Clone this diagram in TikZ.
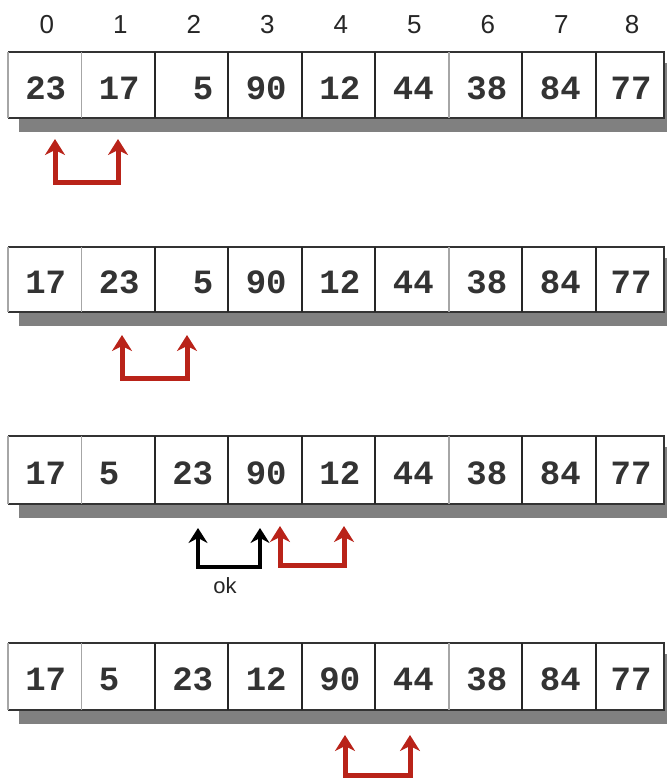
\documentclass[tikz,border=0pt]{standalone}
\usepackage{fontspec}
\setmainfont{Liberation Sans}
\newfontfamily\cellfont{Liberation Mono}
\usetikzlibrary{arrows.meta}
\definecolor{swapred}{RGB}{185,35,25}
\definecolor{shadowgray}{RGB}{128,128,128}
\tikzset{
  cellnum/.style={font=\cellfont\bfseries\fontsize{34}{34}\selectfont, text=black!80, inner sep=0pt, anchor=center},
  cellbox/.style={inner sep=0pt, anchor=center},
  idx/.style={font=\fontsize{26}{26}\selectfont, text=black!85, inner sep=0pt, anchor=base},
  frame/.style={draw=black!80, line width=1.6pt},
  divider/.style={draw=black!85, line width=2pt},
  lightdiv/.style={draw=black!35, line width=1.6pt},
  swaparrow/.style={draw=swapred, line width=5pt, {Stealth[length=16pt,width=20pt,inset=5pt]}-{Stealth[length=16pt,width=20pt,inset=5pt]}},
  okarrow/.style={draw=black, line width=4.5pt, {Stealth[length=15pt,width=19pt,inset=5pt]}-{Stealth[length=15pt,width=19pt,inset=5pt]}},
  oklabel/.style={font=\fontsize{22}{22}\selectfont, text=black!85, inner sep=0pt, anchor=base}
}
\newcommand{\ph}{\phantom{0}}
\begin{document}
\begin{tikzpicture}[x=1pt,y=-1pt]
\useasboundingbox (0,0) rectangle (667,782);
\fill[white] (0,0) rectangle (667,782);
\def\xs{{8,81.5,155,228.5,302,375.5,449,522.5,596,664}}
% index labels
\foreach \i in {0,...,8}{
  \pgfmathsetmacro{\xa}{\xs[\i]}
  \pgfmathsetmacro{\xb}{\xs[\i+1]}
  \node[idx] (idx\i) at ({(\xa+\xb)/2+2},33) {\i};
}
% rows: row number / top / bottom / values
\foreach \r/\top/\bot/\vals in {
  1/52/118/{23,17,{\ph5},90,12,44,38,84,77},
  2/247/312/{17,23,{\ph5},90,12,44,38,84,77},
  3/436/504/{17,{5\ph},23,90,12,44,38,84,77},
  4/643/710/{17,{5\ph},23,12,90,44,38,84,77}}{
  \fill[shadowgray] (19,{\top+11}) rectangle (667,{\bot+14});
  \fill[white] (8,\top) rectangle (664,\bot);
  \foreach \v [count=\c from 0] in \vals {
    \pgfmathsetmacro{\xa}{\xs[\c]}
    \pgfmathsetmacro{\xb}{\xs[\c+1]}
    \node[cellbox, minimum width={(\xb-\xa)*1pt}, minimum height={(\bot-\top)*1pt}] (r\r c\c) at ({(\xa+\xb)/2},{(\top+\bot)/2}) {};
    \node[cellnum] (t\r c\c) at ({(\xa+\xb)/2+1},{(\top+\bot)/2+3}) {\v};
  }
  \draw[frame] (8,\top) -- (664,\top) -- (664,\bot) -- (8,\bot);
  \draw[lightdiv] (8,\top) -- (8,\bot);
  \foreach \c in {2,3,4,5,7,8}{
    \draw[divider] (r\r c\c.north west) -- (r\r c\c.south west);
  }
  \draw[lightdiv] (r\r c1.north west) -- (r\r c1.south west);
  \draw[lightdiv] (r\r c6.north west) -- (r\r c6.south west);
}
% arrow coordinates
\coordinate (a1l) at (55,139);  \coordinate (a1r) at (118,139);
\coordinate (a2l) at (122,335); \coordinate (a2r) at (187,335);
\coordinate (a3l) at (198,528); \coordinate (a3r) at (260,528);
\coordinate (a4l) at (280,526); \coordinate (a4r) at (344,526);
\coordinate (a5l) at (345,735); \coordinate (a5r) at (410,735);
\draw[swaparrow] (a1l) -- ++(0,43) -| (a1r);
\draw[swaparrow] (a2l) -- ++(0,43) -| (a2r);
\draw[okarrow] (a3l) -- ++(0,39) -| (a3r);
\draw[swaparrow] (a4l) -- ++(0,39) -| (a4r);
\draw[swaparrow] (a5l) -- ++(0,40) -| (a5r);
\node[oklabel] (ok) at (225,593) {ok};
\end{tikzpicture}
\end{document}
